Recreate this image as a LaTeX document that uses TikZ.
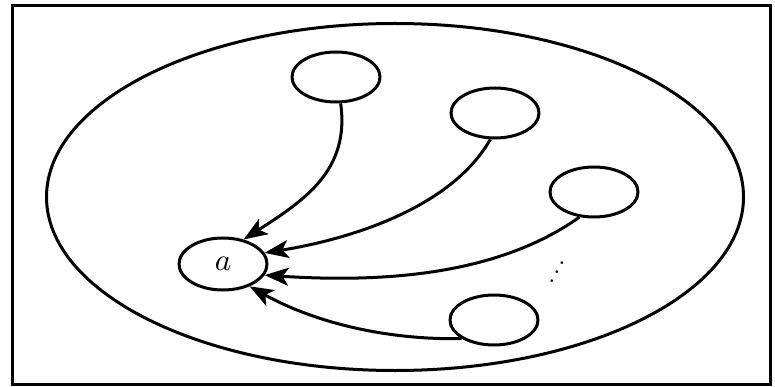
\documentclass[tikz,border=0pt]{standalone}
\usepackage{graphicx}
\usetikzlibrary{shapes.geometric,arrows.meta}
\begin{document}
\begin{tikzpicture}[x=1pt,y=-1pt,line width=3pt,
  elnode/.style={draw,ellipse,minimum width=88pt,minimum height=50pt,inner sep=0pt},
  conn/.style={-{Stealth[length=24pt,width=18pt,inset=6pt]}}]
\useasboundingbox (0,0) rectangle (775,387);
\draw (12,6) rectangle (770,384);
\node[draw,ellipse,minimum width=697pt,minimum height=347pt] (big) at (395,197) {};
\node[elnode] (t1) at (336,77) {};
\node[elnode] (t2) at (495,113) {};
\node[elnode] (t3) at (594,192) {};
\node[elnode] (t4) at (494,320) {};
\node[elnode,minimum height=52pt] (a) at (223,264) {\scalebox{3.1}{$a$}};
\node[rotate=-30,inner sep=0pt] (dots) at (561,265) {\scalebox{2.6}{$\vdots$}};
\draw[conn] (t1.-80) .. controls (350,170) and (305,200) .. (a.50);
\draw[conn] (t2.-100) .. controls (450,210) and (345,240) .. (a.15);
\draw[conn] (t3.-120) .. controls (505,270) and (400,284) .. (a.-15);
\draw[conn] (t4.-150) .. controls (380,340) and (310,320) .. (a.-40);
\end{tikzpicture}
\end{document}
